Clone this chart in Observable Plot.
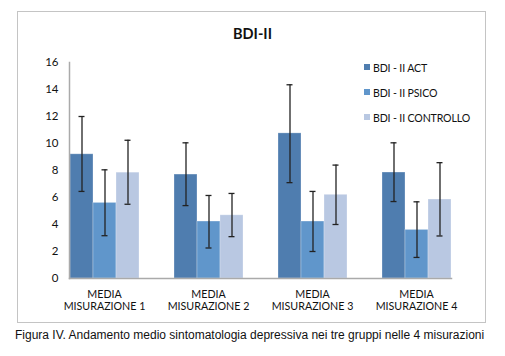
<!DOCTYPE html>
<html><head><meta charset="utf-8">
<script src="https://cdn.jsdelivr.net/npm/d3@7"></script>
<script src="https://cdn.jsdelivr.net/npm/@observablehq/plot@0.6"></script>
<style>
html,body{margin:0;padding:0;background:#fff;}
#wrap{position:relative;width:505px;height:356px;overflow:hidden;font-family:Lato,"Open Sans",sans-serif;}
#frame{position:absolute;left:17px;top:11px;width:467px;height:310px;border:1px solid #c4c4c4;}
#title{position:absolute;left:0;width:505px;top:25px;text-align:center;font-weight:bold;font-size:14.5px;color:#111;}
#chart{position:absolute;left:0;top:0;}
#legend{position:absolute;left:364px;top:62px;font-size:10.6px;letter-spacing:-0.15px;color:#111;}
#legend .it{height:25px;display:flex;align-items:flex-start;}
#legend .sw{width:6px;height:6px;margin:2px 3px 0 0;}
#caption{position:absolute;left:15px;top:328px;font-family:"Liberation Sans",Arial,sans-serif;font-size:12px;color:#111;white-space:nowrap;}
</style></head>
<body>
<div id="wrap">
  <div id="frame"></div>
  <div id="chart"></div>
  <div id="title"></div>
  <div id="legend"></div>
  <div id="caption"></div>
</div>
<script>
const titleText = "BDI-II";
const captionText = "Figura IV. Andamento medio sintomatologia depressiva nei tre gruppi nelle 4 misurazioni";
const groups = ["MEDIA\nMISURAZIONE 1", "MEDIA\nMISURAZIONE 2", "MEDIA\nMISURAZIONE 3", "MEDIA\nMISURAZIONE 4"];
const series = ["BDI - II ACT", "BDI - II PSICO", "BDI - II CONTROLLO"];
const colors = ["#4f7daf", "#6096cb", "#b9c8e2"];
const actMean = [9.2, 7.7, 10.75, 7.85];
const actLow = [6.45, 5.4, 7.1, 5.7];
const actHigh = [12.0, 10.05, 14.35, 10.05];
const psicoMean = [5.6, 4.22, 4.22, 3.6];
const psicoLow = [3.17, 2.26, 2.0, 1.56];
const psicoHigh = [8.05, 6.15, 6.45, 5.68];
const contrMean = [7.84, 4.68, 6.2, 5.85];
const contrLow = [5.5, 3.1, 4.0, 3.15];
const contrHigh = [10.24, 6.3, 8.4, 8.58];
const yTicks = [0, 2, 4, 6, 8, 10, 12, 14, 16];

const means = [actMean, psicoMean, contrMean];
const lows = [actLow, psicoLow, contrLow];
const highs = [actHigh, psicoHigh, contrHigh];
const data = [];
groups.forEach((g, gi) => series.forEach((s, si) => data.push({
  group: g, series: s, value: means[si][gi], low: lows[si][gi], high: highs[si][gi]
})));

const plot = Plot.plot({
  width: 505,
  height: 320,
  marginLeft: 50,
  marginRight: 36,
  marginTop: 62,
  marginBottom: 42,
  style: {fontFamily: "Lato, 'Open Sans', sans-serif", fontSize: "11px", color: "#111", background: "transparent"},
  fx: {domain: groups, paddingInner: 0.33, paddingOuter: 0.165, label: null},
  x: {domain: series, padding: 0, axis: null},
  y: {domain: [0, 16], ticks: yTicks, label: null},
  color: {domain: series, range: colors},
  marks: [
    Plot.barY(data, {fx: "group", x: "series", y: "value", fill: "series", stroke: "#ffffff", strokeOpacity: 0.35, strokeWidth: 0.8}),
    Plot.ruleX(data, {fx: "group", x: "series", y1: "low", y2: "high", stroke: "#222", strokeWidth: 1.3}),
    Plot.tickY(data, {fx: "group", x: "series", y: "low", stroke: "#222", strokeWidth: 1.3, insetLeft: 8.5, insetRight: 8.5}),
    Plot.tickY(data, {fx: "group", x: "series", y: "high", stroke: "#222", strokeWidth: 1.3, insetLeft: 8.5, insetRight: 8.5}),
    Plot.axisY({ticks: yTicks, tickSize: 0, tickPadding: 11, fontSize: 11.5, label: null}),
    Plot.axisFx({anchor: "bottom", tickSize: 0, tickPadding: 10, fontSize: 10.7, lineHeight: 1.2, label: null}),
    Plot.frame({anchor: "left", stroke: "#aaa", strokeWidth: 1.5, facet: "super"}),
    Plot.frame({anchor: "bottom", stroke: "#aaa", strokeWidth: 1.5, facet: "super"})
  ]
});
document.getElementById("chart").appendChild(plot);
document.getElementById("title").textContent = titleText;
document.getElementById("caption").textContent = captionText;
const lg = document.getElementById("legend");
series.forEach((s, i) => {
  const it = document.createElement("div"); it.className = "it";
  const sw = document.createElement("span"); sw.className = "sw"; sw.style.background = colors[i];
  const t = document.createElement("span"); t.textContent = s;
  it.appendChild(sw); it.appendChild(t); lg.appendChild(it);
});
</script>
</body></html>
